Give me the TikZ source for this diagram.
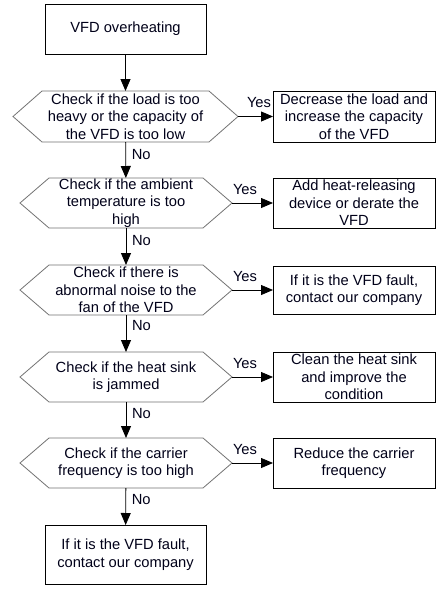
\documentclass[tikz,border=0pt]{standalone}
\usepackage{fontspec}
\setmainfont{Liberation Sans}
\usetikzlibrary{arrows.meta,calc}
\begin{document}
\begin{tikzpicture}[x=1pt,y=-1pt,
  every node/.style={inner sep=0pt,outer sep=0pt,font=\fontsize{14.7}{17.5}\selectfont,align=center,text=black!90!blue},
  boxnode/.style={draw=black,line width=0.8pt,minimum width=161pt,minimum height=50pt},
  hexnode/.style={minimum width=212pt,minimum height=50pt},
  hexline/.style={draw=black!55,line width=0.8pt},
  arr/.style={draw=black,line width=0.8pt,-{Triangle[length=12pt,width=10pt]}},
  lab/.style={anchor=base west}
]
\useasboundingbox (0,0) rectangle (446,590);
\fill[white] (0,0) rectangle (446,590);
% nodes
\node[boxnode] (start) at (125.5,29) {VFD overheating};
\node[hexnode,minimum width=225pt,minimum height=51pt] (h1) at (125.5,116.5) {Check if the load is too\\heavy or the capacity of\\the VFD is too low};
\node[boxnode,minimum width=162pt,minimum height=51pt] (b1) at (354,116.5) {Decrease the load and\\increase the capacity\\of the VFD};
\node[hexnode] (h2) at (126,203) {Check if the ambient\\temperature is too\\high};
\node[boxnode,minimum width=162pt] (b2) at (354,203) {Add heat-releasing\\device or derate the\\VFD};
\node[hexnode] (h3) at (126,290) {Check if there is\\abnormal noise to the\\fan of the VFD};
\node[boxnode,minimum width=162pt,minimum height=48pt] (b3) at (354,290) {If it is the VFD fault,\\contact our company};
\node[hexnode] (h4) at (126,377) {Check if the heat sink\\is jammed};
\node[boxnode,minimum width=162pt] (b4) at (354,377) {Clean the heat sink\\and improve the\\condition};
\node[hexnode] (h5) at (126,463) {Check if the carrier\\frequency is too high};
\node[boxnode,minimum width=162pt] (b5) at (354,463) {Reduce the carrier\\frequency};
\node[boxnode,minimum height=59pt] (end) at (125.5,554.5) {If it is the VFD fault,\\contact our company};
% hexagon outlines
\foreach \h in {h1,h2,h3,h4,h5}{
  \draw[hexline] (\h.west) -- ([xshift=29pt]\h.north west) -- ([xshift=-29pt]\h.north east)
    -- (\h.east) -- ([xshift=-29pt]\h.south east) -- ([xshift=29pt]\h.south west) -- cycle;
}
% vertical connectors
\draw[arr] (start) -- (h1);
\draw[arr] (h1) -- node[lab,pos=0.49,xshift=6pt] {No} (h2);
\draw[arr] (h2) -- node[lab,pos=0.48,xshift=6pt] {No} (h3);
\draw[arr] (h3) -- node[lab,pos=0.43,xshift=6pt] {No} (h4);
\draw[arr] (h4) -- node[lab,pos=0.47,xshift=6pt] {No} (h5);
\draw[arr] (h5) -- node[lab,pos=0.45,xshift=6pt] {No} (end);
% horizontal connectors
\draw[arr] (h1.east) -- node[lab,at start,xshift=9pt,yshift=9.5pt] {Yes} (b1.west);
\draw[arr] (h2.east) -- node[lab,at start,xshift=1pt,yshift=8.5pt] {Yes} (b2.west);
\draw[arr] (h3.east) -- node[lab,at start,xshift=1pt,yshift=8.5pt] {Yes} (b3.west);
\draw[arr] (h4.east) -- node[lab,at start,xshift=1pt,yshift=8.5pt] {Yes} (b4.west);
\draw[arr] (h5.east) -- node[lab,at start,xshift=1pt,yshift=8.5pt] {Yes} (b5.west);
\end{tikzpicture}
\end{document}
